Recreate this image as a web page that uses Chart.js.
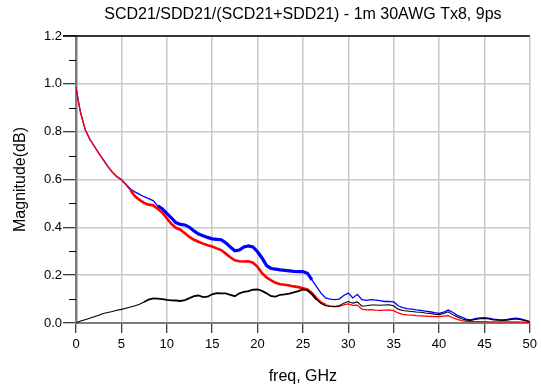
<!DOCTYPE html>
<html>
<head>
<meta charset="utf-8">
<script src="https://cdn.jsdelivr.net/npm/chart.js@4.4.1/dist/chart.umd.min.js"></script>
<style>
  html, body { margin: 0; padding: 0; background: #fff; }
  #wrap { width: 541px; height: 390px; position: relative; }
</style>
</head>
<body>
<div id="wrap"><canvas id="myChart" width="541" height="390"></canvas></div>
<script>
// data (GHz, magnitude)
const freq = [0, 0.25, 0.5, 1, 1.5, 2, 2.5, 3, 3.5, 4, 4.5, 5, 5.5, 6, 6.5, 7, 7.5, 8, 8.5, 9, 9.5,
  10, 10.5, 11, 11.5, 12, 12.5, 13, 13.5, 14, 14.5, 15, 15.5, 16, 16.5, 17, 17.5, 18, 18.5, 19, 19.5,
  20, 20.5, 21, 21.5, 22, 22.5, 23, 23.5, 24, 24.5, 25, 25.5, 26, 26.5, 27, 27.5, 28, 28.5, 29, 29.5,
  30, 30.5, 31, 31.5, 32, 32.5, 33, 33.5, 34, 34.5, 35, 35.5, 36, 36.5, 37, 37.5, 38, 38.5, 39, 39.5,
  40, 40.5, 41, 41.5, 42, 42.5, 43, 43.5, 44, 44.5, 45, 45.5, 46, 46.5, 47, 47.5, 48, 48.5, 49, 49.5, 50];

// blue curve
const sdd21 = [0.985, 0.93, 0.88, 0.81, 0.77, 0.74, 0.71, 0.683, 0.655, 0.632, 0.612, 0.600, 0.58, 0.56, 0.548, 0.538, 0.528, 0.52, 0.512, 0.49, 0.478,
  0.458, 0.44, 0.42, 0.412, 0.41, 0.40, 0.385, 0.372, 0.365, 0.358, 0.352, 0.35, 0.348, 0.335, 0.318, 0.302, 0.305, 0.318, 0.322, 0.318,
  0.298, 0.272, 0.24, 0.228, 0.225, 0.222, 0.22, 0.218, 0.216, 0.215, 0.215, 0.208, 0.18, 0.152, 0.125, 0.105, 0.1, 0.098, 0.1, 0.115,
  0.125, 0.105, 0.12, 0.098, 0.095, 0.098, 0.096, 0.094, 0.09, 0.09, 0.088, 0.072, 0.064, 0.06, 0.058, 0.055, 0.053, 0.05, 0.047, 0.043,
  0.04, 0.045, 0.054, 0.045, 0.032, 0.025, 0.016, 0.013, 0.018, 0.021, 0.022, 0.02, 0.016, 0.014, 0.013, 0.015, 0.018, 0.02, 0.017, 0.012, 0.006];

// red curve
const scdsdd = [0.985, 0.93, 0.88, 0.81, 0.77, 0.74, 0.71, 0.682, 0.655, 0.63, 0.612, 0.598, 0.578, 0.555, 0.53, 0.515, 0.502, 0.495, 0.492, 0.478, 0.462,
  0.438, 0.415, 0.398, 0.39, 0.375, 0.36, 0.348, 0.34, 0.332, 0.325, 0.32, 0.312, 0.305, 0.29, 0.275, 0.262, 0.258, 0.257, 0.258, 0.252,
  0.235, 0.208, 0.19, 0.178, 0.168, 0.162, 0.16, 0.157, 0.153, 0.15, 0.145, 0.14, 0.125, 0.103, 0.085, 0.076, 0.072, 0.069, 0.07, 0.076,
  0.08, 0.074, 0.075, 0.058, 0.055, 0.056, 0.054, 0.053, 0.054, 0.055, 0.052, 0.042, 0.036, 0.034, 0.033, 0.031, 0.03, 0.029, 0.028, 0.027,
  0.027, 0.029, 0.031, 0.022, 0.015, 0.01, 0.007, 0.006, 0.006, 0.006, 0.006, 0.005, 0.005, 0.005, 0.005, 0.005, 0.005, 0.005, 0.004, 0.004, 0.003];

// black curve
const scd21 = [0, 0.004, 0.008, 0.014, 0.02, 0.026, 0.032, 0.04, 0.044, 0.048, 0.053, 0.057, 0.062, 0.067, 0.072, 0.078, 0.088, 0.098, 0.103, 0.102, 0.1,
  0.097, 0.095, 0.094, 0.092, 0.096, 0.104, 0.112, 0.115, 0.108, 0.11, 0.12, 0.125, 0.124, 0.124, 0.118, 0.112, 0.124, 0.13, 0.133, 0.139,
  0.14, 0.134, 0.124, 0.112, 0.11, 0.118, 0.12, 0.123, 0.128, 0.133, 0.14, 0.137, 0.12, 0.098, 0.082, 0.072, 0.069, 0.068, 0.072, 0.083,
  0.09, 0.083, 0.088, 0.07, 0.072, 0.075, 0.075, 0.074, 0.075, 0.076, 0.072, 0.058, 0.052, 0.05, 0.048, 0.046, 0.045, 0.042, 0.04, 0.037,
  0.035, 0.04, 0.047, 0.035, 0.025, 0.018, 0.012, 0.011, 0.015, 0.018, 0.019, 0.017, 0.013, 0.012, 0.011, 0.012, 0.015, 0.017, 0.014, 0.01, 0.005];

const xTicks = [0, 5, 10, 15, 20, 25, 30, 35, 40, 45, 50];
const yTicks = [0.0, 0.2, 0.4, 0.6, 0.8, 1.0, 1.2];

const titleText = "SCD21/SDD21/(SCD21+SDD21) - 1m 30AWG Tx8, 9ps";
const xTitle = "freq, GHz";
const yTitle = "Magnitude(dB)";

const FONT = "'Liberation Sans', Arial, sans-serif";

function pts(ys) {
  return freq.map(function (f, i) { return { x: f, y: ys[i] }; });
}

// noisy parts of the traces look thicker in the original
function thick(lo, hi, w, wNarrow) {
  return function (ctx) {
    const x = ctx.p0.parsed.x;
    return (x >= lo && x <= hi) ? w : wNarrow;
  };
}

// text + minor ticks + frame
const extras = {
  id: 'extras',
  afterDraw: function (chart) {
    const c = chart.ctx;
    const a = chart.chartArea;
    const ys = chart.scales.y;
    c.save();
    // minor ticks on the y axis
    c.strokeStyle = '#000';
    c.lineWidth = 1;
    for (let v = 0.1; v < 1.2; v += 0.2) {
      const py = Math.round(ys.getPixelForValue(v)) + 0.5;
      c.beginPath();
      c.moveTo(a.left - 7, py);
      c.lineTo(a.left, py);
      c.stroke();
    }
    // top border
    c.strokeStyle = '#000';
    c.lineWidth = 1.5;
    c.beginPath();
    c.moveTo(a.left - 13, a.top);
    c.lineTo(a.right, a.top);
    c.stroke();

    c.fillStyle = '#000';
    c.textAlign = 'center';
    c.textBaseline = 'middle';
    c.font = '16px ' + FONT;
    c.fillText(titleText, (a.left + a.right) / 2, 15);
    c.fillText(xTitle, (a.left + a.right) / 2, 377);
    c.translate(21, (a.top + a.bottom) / 2);
    c.rotate(-Math.PI / 2);
    c.fillText(yTitle, 0, 0);
    c.restore();
  }
};

const ctx = document.getElementById('myChart').getContext('2d');
const myChart = new Chart(ctx, {
  type: 'line',
  data: {
    datasets: [
      {
        label: 'SCD21',
        data: pts(scd21),
        borderColor: '#000000',
        borderWidth: 1.1,
        segment: { borderWidth: thick(7.5, 26, 1.8, 1.1) }
      },
      {
        label: 'SCD21+SDD21',
        data: pts(scdsdd),
        borderColor: '#ff0000',
        borderWidth: 1.3,
        segment: { borderWidth: thick(6, 27, 2.6, 1.3) }
      },
      {
        label: 'SDD21',
        data: pts(sdd21),
        borderColor: '#0000ff',
        borderWidth: 1.3,
        segment: { borderWidth: thick(9, 25.5, 3.2, 1.3) }
      }
    ]
  },
  options: {
    responsive: false,
    animation: false,
    devicePixelRatio: 1,
    layout: { padding: { left: 0, right: 10, top: 36, bottom: 0 } },
    elements: { point: { radius: 0 }, line: { tension: 0 } },
    plugins: {
      legend: { display: false },
      title: { display: false },
      tooltip: { enabled: false }
    },
    scales: {
      x: {
        type: 'linear',
        min: 0,
        max: 50,
        afterFit: function (s) { s.height = 67; },
        afterBuildTicks: function (s) { s.ticks = xTicks.map(function (v) { return { value: v }; }); },
        ticks: {
          color: '#000',
          font: { family: FONT, size: 13 },
          padding: 4,
          maxRotation: 0
        },
        grid: {
          color: '#c8c8c8',
          lineWidth: 1.5,
          tickLength: 10,
          tickColor: '#000',
          tickWidth: 1
        },
        border: { color: '#7a7a7a', width: 2 }
      },
      y: {
        min: 0,
        max: 1.2,
        afterFit: function (s) { s.width = 76; },
        afterBuildTicks: function (s) { s.ticks = yTicks.map(function (v) { return { value: v }; }); },
        ticks: {
          color: '#000',
          font: { family: FONT, size: 13 },
          padding: 1,
          callback: function (v) { return v.toFixed(1); }
        },
        grid: {
          color: '#c8c8c8',
          lineWidth: 1.5,
          tickLength: 13,
          tickColor: '#000',
          tickWidth: 1
        },
        border: { color: '#7a7a7a', width: 2.5 }
      }
    }
  },
  plugins: [extras]
});
</script>
</body>
</html>
